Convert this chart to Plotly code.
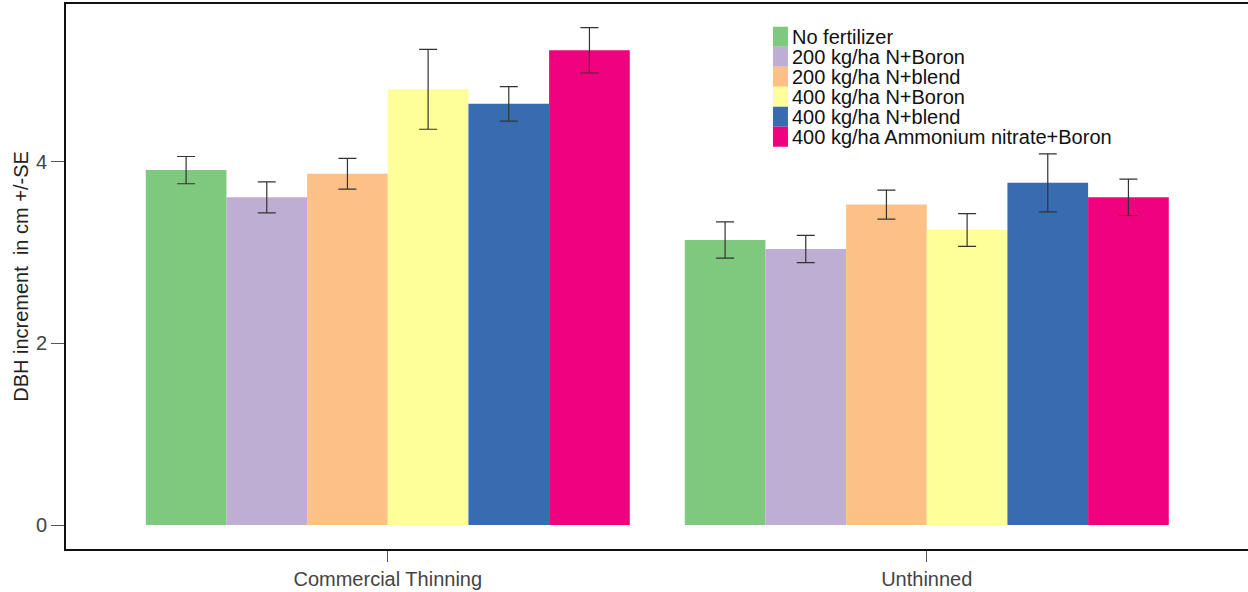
import plotly.graph_objects as go

categories = ["Commercial Thinning", "Unthinned"]
treatments = ["No fertilizer", "200 kg/ha N+Boron", "200 kg/ha N+blend",
              "400 kg/ha N+Boron", "400 kg/ha N+blend",
              "400 kg/ha Ammonium nitrate+Boron"]
colors = ["#7fc97f", "#beaed4", "#fdc086", "#ffff99", "#386cb0", "#f0027f"]

# mean DBH increment (cm) per treatment: [Commercial Thinning, Unthinned]
means = [
    [3.91, 3.14],
    [3.61, 3.04],
    [3.87, 3.53],
    [4.80, 3.25],
    [4.64, 3.77],
    [5.23, 3.61],
]
# standard errors
ses = [
    [0.15, 0.20],
    [0.17, 0.15],
    [0.17, 0.16],
    [0.44, 0.18],
    [0.19, 0.32],
    [0.25, 0.20],
]

fig = go.Figure()
for name, col, m, s in zip(treatments, colors, means, ses):
    fig.add_trace(go.Bar(
        x=categories, y=m, name=name, showlegend=False,
        marker=dict(color=col, line=dict(width=0)),
        error_y=dict(type="data", array=s, visible=True,
                     color="#333333", thickness=1.2, width=9),
    ))

# legend drawn as a compact key (squares + labels) in paper coordinates
leg_x0, leg_x1, leg_tx = 0.5981, 0.6108, 0.6125
leg_top, leg_step = 0.9583, 0.0367
for i, (name, col) in enumerate(zip(treatments, colors)):
    top = leg_top - i * leg_step
    fig.add_shape(type="rect", xref="paper", yref="paper",
                  x0=leg_x0, x1=leg_x1, y0=top - leg_step, y1=top,
                  fillcolor=col, line=dict(width=0))
    fig.add_annotation(xref="paper", yref="paper", x=leg_tx,
                       y=top - leg_step / 2, text=name, showarrow=False,
                       xanchor="left", yanchor="middle",
                       font=dict(size=20, color="#111111"))

fig.update_layout(
    width=1248, height=592,
    barmode="group", bargap=0.102, bargroupgap=0,
    plot_bgcolor="white", paper_bgcolor="white",
    margin=dict(l=66, r=0, t=4, b=43),
    font=dict(family="Arial, Liberation Sans, sans-serif", color="#222222"),
    showlegend=False,
    xaxis=dict(range=[-0.597, 1.596], showline=True, linecolor="#111111",
               linewidth=2, mirror=True, ticks="outside", ticklen=11,
               tickcolor="#555555", tickwidth=1, automargin=False,
               tickfont=dict(size=20, color="#444444"), showgrid=False),
    yaxis=dict(range=[-0.264, 5.74], showline=True, linecolor="#111111",
               linewidth=2, mirror=False, ticks="outside", ticklen=13,
               tickcolor="#555555", tickwidth=1, tickvals=[0, 2, 4],
               tickfont=dict(size=20, color="#444444"), showgrid=False,
               zeroline=False, automargin=False,
               title=dict(text="DBH increment  in cm +/-SE",
                          font=dict(size=20, color="#222222"), standoff=2)),
)

fig.write_html("out.html", config={"displayModeBar": False},
               post_script="document.body.style.margin='0';")
